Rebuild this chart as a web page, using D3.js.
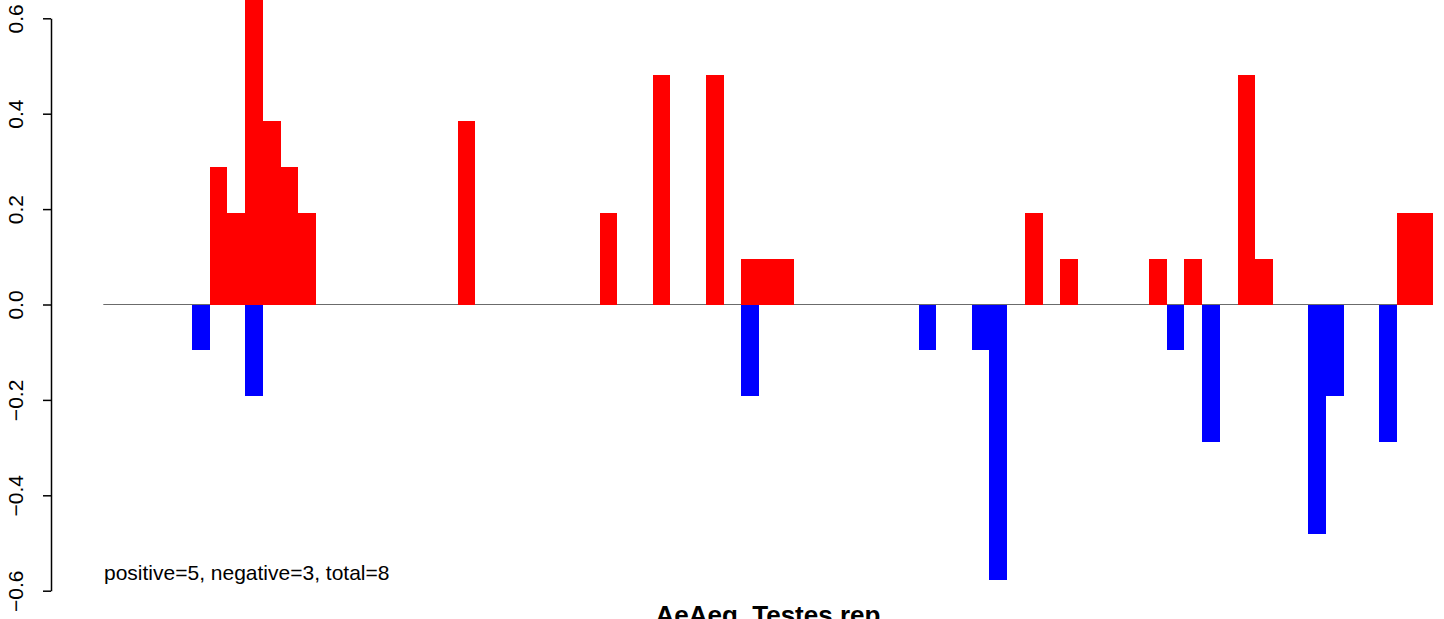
<!DOCTYPE html>
<html>
<head>
<meta charset="utf-8">
<script src="https://cdn.jsdelivr.net/npm/d3@7"></script>
<style>
  html, body { margin: 0; padding: 0; background: #fff; }
  svg { display: block; }
  text { font-family: "Liberation Sans", Arial, Helvetica, sans-serif; fill: #000; }
</style>
</head>
<body>
<svg id="chart" width="1444" height="619"></svg>
<script>
// ---- data ----
const binCount = 75;
const bins = d3.range(binCount);
const positiveBins   = [6, 7, 8, 9, 10, 11, 20, 28, 31, 34, 36, 37, 38, 52, 54, 59, 61, 64, 65, 73, 74];
const positiveValues = [0.289, 0.192, 0.673, 0.385, 0.289, 0.192, 0.385, 0.192, 0.481, 0.481, 0.096, 0.096, 0.096, 0.192, 0.096, 0.096, 0.096, 0.481, 0.096, 0.192, 0.192];
const negativeBins   = [5, 8, 36, 46, 49, 50, 60, 62, 68, 69, 72];
const negativeValues = [-0.096, -0.192, -0.192, -0.096, -0.096, -0.577, -0.096, -0.289, -0.481, -0.192, -0.289];
const yTicks = [-0.6, -0.4, -0.2, 0.0, 0.2, 0.4, 0.6];
const summaryText = "positive=5, negative=3, total=8";
const titleText = "AeAeg_Testes.rep";

// ---- layout ----
const svg = d3.select("#chart");
const x = d3.scaleBand().domain(bins).range([103.3, 1432.5]).padding(0);
const y = d3.scaleLinear().domain([-0.6, 0.6]).range([590.7, 18.3]);
const axisX = 51;

// baseline
svg.append("line")
  .attr("x1", x.range()[0]).attr("x2", x.range()[1])
  .attr("y1", y(0)).attr("y2", y(0))
  .attr("stroke", "#6b6b6b").attr("stroke-width", 1.2);

const posData = positiveBins.map((b, i) => ({ bin: b, v: positiveValues[i] }));
const negData = negativeBins.map((b, i) => ({ bin: b, v: negativeValues[i] }));

svg.append("g").attr("shape-rendering", "crispEdges")
  .selectAll("rect").data(posData).join("rect")
  .attr("x", d => x(d.bin))
  .attr("width", x.bandwidth())
  .attr("y", d => y(d.v))
  .attr("height", d => y(0) - y(d.v))
  .attr("fill", "#ff0000");

svg.append("g").attr("shape-rendering", "crispEdges")
  .selectAll("rect").data(negData).join("rect")
  .attr("x", d => x(d.bin))
  .attr("width", x.bandwidth())
  .attr("y", y(0))
  .attr("height", d => y(d.v) - y(0))
  .attr("fill", "#0000ff");

// y axis
const yAxis = d3.axisLeft(y)
  .tickValues(yTicks)
  .tickSize(8)
  .tickSizeOuter(0)
  .tickFormat(d3.format(".1f"));

const gAxis = svg.append("g")
  .attr("transform", `translate(${axisX},0)`)
  .call(yAxis);
gAxis.select(".domain").attr("stroke", "#000").attr("stroke-width", 1.5);
gAxis.selectAll(".tick line").attr("stroke", "#000").attr("stroke-width", 1.5);
gAxis.selectAll(".tick text")
  .attr("x", null).attr("dy", null)
  .attr("text-anchor", "middle")
  .attr("transform", `translate(${23 - axisX},0) rotate(-90)`)
  .style("font-size", "21px")
  .style("font-family", '"Liberation Sans", Arial, Helvetica, sans-serif')
  .attr("fill", "#000");

// annotation
svg.append("text")
  .attr("x", 104).attr("y", 580)
  .style("font-size", "21px")
  .text(summaryText);

// title (partially clipped at bottom, as in the reference)
svg.append("text")
  .attr("x", (x.range()[0] + x.range()[1]) / 2)
  .attr("y", 624)
  .attr("text-anchor", "middle")
  .style("font-size", "26px")
  .style("font-weight", "bold")
  .text(titleText);
</script>
</body>
</html>
